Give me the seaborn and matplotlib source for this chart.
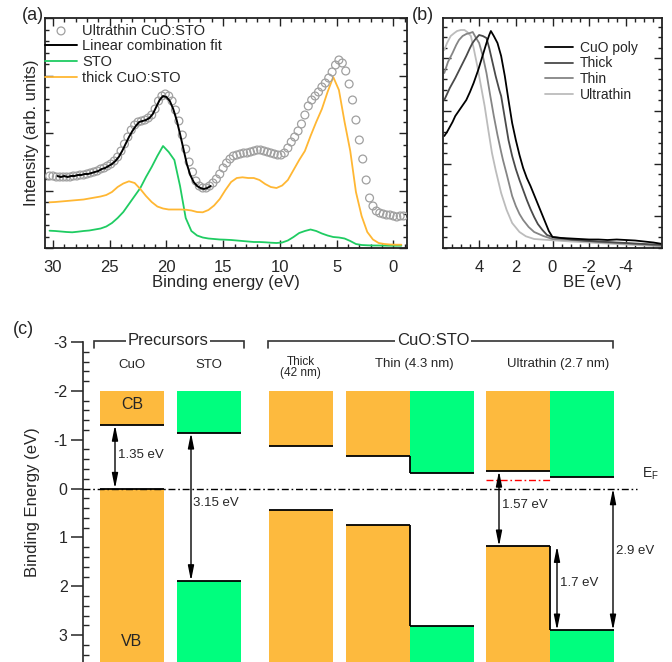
import numpy as np
import matplotlib
matplotlib.use("Agg")
import matplotlib.pyplot as plt
from matplotlib.ticker import MultipleLocator, FixedLocator
import seaborn as sns

# ---------------- panel (a) data ----------------
a_ultra_start, a_ultra_step = 30.3, 0.3
a_ultrathin = [72, 72, 71, 71, 71, 71, 71, 72, 72, 73,
               73, 74, 75, 76, 77, 79, 80, 82, 84, 87,
               91, 97, 104, 111, 118, 123, 126, 127, 128, 130,
               133, 139, 147, 152, 154, 152, 147, 138, 127, 113,
               99, 86, 76, 67, 62, 60, 60, 62, 65, 69,
               74, 80, 85, 89, 92, 93, 94, 95, 95, 96,
               97, 98, 98, 97, 96, 95, 94, 93, 93, 95,
               100, 106, 111, 117, 124, 133, 142, 148, 152, 156,
               161, 165, 170, 176, 183, 188, 185, 177, 164, 148,
               128, 108, 89, 68, 50, 42, 37, 35, 34, 33,
               33, 32, 31, 32, 32]
a_fit_start, a_fit_step = 29.6, 0.3
a_fit = [72, 71, 72, 71, 72, 72, 73, 73, 74, 74,
         75, 76, 77, 79, 80, 82, 84, 87, 91, 97,
         104, 111, 117, 122, 126, 127, 128, 130, 134, 141,
         148, 152, 151, 147, 139, 128, 114, 99, 84, 73,
         66, 62, 60, 59, 60, 62]
a_ref_start, a_ref_step = 30.3, 0.5
a_sto = [17.3, 17, 16.5, 16, 15.7, 16.3, 17, 17.5, 18.5, 19.5,
         21.5, 25, 30, 36, 44, 52, 60, 71, 81, 92,
         102, 96, 88, 62, 30, 17, 12.5, 10.5, 9.5, 9,
         8.5, 8.3, 8, 7.5, 7, 6.5, 6, 6, 5.7, 5.3,
         5, 5.5, 7.5, 11, 15, 17, 18.5, 17, 14.5, 12.5,
         11, 10.5, 9.5, 7, 4, 3, 2.7, 2.5, 2.5, 2.4,
         2.3, 2.3, 2.3]
a_thick = [45.7, 46, 46.5, 47, 47.5, 48, 48.5, 49.5, 50.5, 51.5,
           53, 56, 61, 64.5, 66.7, 65, 59, 52, 46, 41.5,
           39.5, 38.5, 38.5, 38.5, 38.3, 37.5, 36, 35.7, 38, 42.5,
           49, 58, 66, 70, 70.7, 70, 70, 68, 64, 61,
           60, 62.5, 68, 78, 88, 97, 112, 126, 139, 156,
           171, 158, 126, 97, 56, 32, 16, 8.5, 5, 4,
           3.5, 3.3, 3.3]
a_labels = ["Ultrathin CuO:STO", "Linear combination fit", "STO", "thick CuO:STO"]

# ---------------- panel (b) data ----------------
b_labels = ["CuO poly", "Thick", "Thin", "Ultrathin"]
b_cuo_x = [5.9, 5.75, 5.6, 5.45, 5.3, 5.0, 4.7, 4.5, 4.3, 4.05, 3.8, 3.6, 3.45, 3.36, 3.2, 3.0,
           2.8, 2.6, 2.4, 2.2, 2.0, 1.8, 1.6, 1.4, 1.2, 1.0, 0.8, 0.6, 0.4, 0.2, 0.0,
           -0.5, -1.0, -1.5, -2.0, -2.5, -3.0, -3.5, -4.0, -4.5, -5.0, -5.5, -5.9]
b_cuo_y = [112, 116, 121, 126, 132, 140, 148, 156, 165, 178, 193, 205, 213, 217, 212, 205,
           192, 172, 148, 125, 108, 93, 80, 70, 62, 53, 44, 35, 26, 17, 11,
           10, 9.5, 9, 8.5, 8.5, 8, 8.5, 8, 7.5, 6.5, 5.5, 4.3]
b_thick_x = [5.9, 5.6, 5.3, 5.0, 4.7, 4.5, 4.36, 4.2, 4.0, 3.8, 3.6, 3.45, 3.3, 3.1, 2.9, 2.8,
             2.6, 2.4, 2.2, 2.0, 1.8, 1.6, 1.4, 1.2, 1.0, 0.8, 0.55, 0.3, 0.0,
             -1, -2, -3, -4, -5, -5.9]
b_thick_y = [148, 160, 170, 181, 192, 200, 205, 209, 213, 212, 210, 200, 188, 172, 158, 152,
             130, 108, 92, 79, 68, 58, 48, 39, 31, 24, 18, 13, 11,
             8.5, 7, 6, 5, 4, 3.3]
b_thin_x = [5.9, 5.7, 5.45, 5.25, 5.1, 4.9, 4.7, 4.5, 4.35, 4.2, 4.0, 3.8, 3.6, 3.4, 3.2, 3.0,
            2.8, 2.7, 2.5, 2.2, 2.0, 1.8, 1.6, 1.3, 1.0, 0.5, 0.0,
            -1, -2, -3, -4, -5, -5.9]
b_thin_y = [175, 186, 195, 203, 208, 212, 214, 215, 216, 211, 205, 192, 175, 153, 132, 113,
            96, 88, 74, 52, 42, 34, 28, 21, 16, 12, 9,
            8, 6.7, 5.5, 4.5, 3.5, 2.3]
b_ultra_x = [5.9, 5.75, 5.55, 5.35, 5.2, 5.0, 4.8, 4.65, 4.45, 4.3, 4.1, 3.9, 3.7, 3.5, 3.3,
             3.1, 2.8, 2.5, 2.2, 1.8, 1.45, 1.0, 0.0, -1, -2, -3, -4, -5, -5.9]
b_ultra_y = [198, 205, 212, 215, 217, 218, 218, 216, 212, 200, 182, 162, 142, 118, 95,
             78, 55, 38, 25, 16, 11.7, 9, 7.7, 6.5, 5.5, 4.5, 3.5, 2.5, 1.7]

# ---------------- panel (c) data ----------------
c_columns = ["CuO", "STO", "Thick\n(42 nm)", "Thin (4.3 nm)", "Ultrathin (2.7 nm)"]
c_groups = ["Precursors", "CuO:STO"]
c_material = ["CuO", "STO", "CuO", "CuO", "STO", "CuO", "STO"]
c_cb_top = [-2.0, -2.0, -2.0, -2.0, -2.0, -2.0, -2.0]
c_cb_min = [-1.30, -1.14, -0.88, -0.67, -0.31, -0.36, -0.245]
c_vb_max = [0.0, 1.89, 0.435, 0.74, 2.82, 1.18, 2.90]
c_ef = 0.0
c_red_level = -0.18
c_gap_labels = ["1.35 eV", "3.15 eV", "1.57 eV", "1.7 eV", "2.9 eV"]

# ---------------- style ----------------
sns.set_style("ticks")
plt.rcParams['font.family'] = ['Liberation Sans', 'DejaVu Sans']
plt.rcParams['axes.unicode_minus'] = False
plt.rcParams['mathtext.fontset'] = 'custom'
plt.rcParams['mathtext.rm'] = 'Liberation Sans'
plt.rcParams['mathtext.it'] = 'Liberation Sans'

W, H = 672, 662
fig = plt.figure(figsize=(W / 100, H / 100), dpi=100)


def px_axes(l, t, r, b):
    return fig.add_axes([l / W, 1 - b / H, (r - l) / W, (b - t) / H])


axa = px_axes(45, 18, 407, 248)
axb = px_axes(443, 18, 662, 248)
axc = px_axes(83, 342, 672, 662)

# ---------------- panel (a) ----------------
ua_x = a_ultra_start - a_ultra_step * np.arange(len(a_ultrathin))
fit_x = a_fit_start - a_fit_step * np.arange(len(a_fit))
sto_x = a_ref_start - a_ref_step * np.arange(len(a_sto))
thick_x = a_ref_start - a_ref_step * np.arange(len(a_thick))

sns.lineplot(x=sto_x, y=a_sto, ax=axa, color='#1fcc62', lw=1.3, label=a_labels[2])
sns.lineplot(x=thick_x, y=a_thick, ax=axa, color='#ffb733', lw=1.3, label=a_labels[3])
sns.scatterplot(x=ua_x, y=a_ultrathin, ax=axa, marker='o', s=32, facecolor='none',
                edgecolor='#a0a0a0', linewidth=0.9, label=a_labels[0], zorder=3)
sns.lineplot(x=fit_x, y=a_fit, ax=axa, color='black', lw=1.4, label=a_labels[1], zorder=4)

axa.set_xlim(30.7, -1.2)
axa.set_ylim(0, 230)
axa.xaxis.set_major_locator(MultipleLocator(5))
axa.xaxis.set_minor_locator(MultipleLocator(1))
axa.yaxis.set_major_locator(MultipleLocator(57.5))
axa.yaxis.set_minor_locator(MultipleLocator(11.5))
axa.tick_params(which='both', direction='in', top=True, right=True, width=1,
                labelleft=False, labelsize=12, pad=9, color='#222222')
axa.tick_params(which='major', length=6)
axa.tick_params(which='minor', length=3)
axa.set_xlabel("Binding energy (eV)", fontsize=12, labelpad=0)
axa.set_ylabel("Intensity (arb. units)", fontsize=12, labelpad=4)
for s in axa.spines.values():
    s.set_linewidth(1.3)
    s.set_color('#222222')
h, l = axa.get_legend_handles_labels()
order = [l.index(t) for t in a_labels]
axa.legend([h[i] for i in order], [l[i] for i in order], loc='upper left',
           bbox_to_anchor=(0.0, 0.975), frameon=False, fontsize=10.5, borderpad=0,
           handlelength=2.2, handletextpad=0.35, labelspacing=0.12, borderaxespad=0.0)

# ---------------- panel (b) ----------------
b_series = [(b_cuo_x, b_cuo_y, '#000000'), (b_thick_x, b_thick_y, '#4a4a4a'),
            (b_thin_x, b_thin_y, '#858585'), (b_ultra_x, b_ultra_y, '#bcbcbc')]
for (xs, ys, col), lab in zip(b_series[::-1], b_labels[::-1]):
    sns.lineplot(x=xs, y=ys, ax=axb, color=col, lw=1.3, label=lab)
axb.set_xlim(5.97, -5.97)
axb.set_ylim(0, 230)
axb.xaxis.set_major_locator(MultipleLocator(2))
axb.xaxis.set_minor_locator(MultipleLocator(0.5))
axb.yaxis.set_major_locator(FixedLocator(np.arange(31.7 - 52.7, 235, 52.7)))
axb.yaxis.set_minor_locator(FixedLocator(np.arange(31.7 - 52.7, 235, 10.54)))
axb.tick_params(which='both', direction='in', top=True, right=True, width=1,
                labelleft=False, labelsize=12, pad=9, color='#222222')
axb.tick_params(which='major', length=6)
axb.tick_params(which='minor', length=3)
axb.set_xlabel("BE (eV)", fontsize=12, labelpad=0, x=0.68)
for s in axb.spines.values():
    s.set_linewidth(1.3)
    s.set_color('#222222')
h, l = axb.get_legend_handles_labels()
order = [l.index(t) for t in b_labels]
axb.legend([h[i] for i in order], [l[i] for i in order], loc='upper left',
           bbox_to_anchor=(0.44, 0.925), frameon=False, fontsize=10,
           handlelength=2.0, handletextpad=0.5, labelspacing=0.12, borderaxespad=0.0)

# ---------------- panel (c) ----------------
orange, green = '#fdba3e', '#00fe7e'
col_of = {"CuO": orange, "STO": green}
bar_x = [132, 209, 300.5, 378, 442, 518, 582]
bar_w = 64
vb_floor = 3.7
edge_lw = 1.3
axc.set_xlim(83, 672)
axc.set_ylim(3.55, -3)
for i, x in enumerate(bar_x):
    c = col_of[c_material[i]]
    axc.bar(x, c_cb_min[i] - c_cb_top[i], bottom=c_cb_top[i], width=bar_w, color=c,
            linewidth=0, zorder=1)
    axc.bar(x, vb_floor - c_vb_max[i], bottom=c_vb_max[i], width=bar_w, color=c,
            linewidth=0, zorder=1)
    axc.hlines([c_cb_min[i], c_vb_max[i]], x - bar_w / 2, x + bar_w / 2, color='black',
               lw=edge_lw, zorder=3)
# band steps between neighbouring CuO and STO halves
axc.vlines(bar_x[3] + bar_w / 2, c_cb_min[3], c_cb_min[4], color='black', lw=edge_lw, zorder=3)
axc.vlines(bar_x[3] + bar_w / 2, c_vb_max[3], c_vb_max[4], color='black', lw=edge_lw, zorder=3)
axc.vlines(bar_x[5] + bar_w / 2, c_vb_max[5], c_vb_max[6], color='black', lw=edge_lw, zorder=3)

# Fermi level
axc.hlines(c_ef, 83, 637, color='black', lw=1.0, linestyles=[(0, (5, 2, 1.2, 2))], zorder=4)
axc.hlines(c_red_level, bar_x[5] - bar_w / 2, bar_x[5] + bar_w / 2, color='red', lw=1.0,
           linestyles=[(0, (5, 2, 1.2, 2))], zorder=4)
axc.text(642, -0.3, r"E$_\mathrm{F}$", fontsize=10, ha='left', va='center')

# gap arrows
arrows = [(115, c_cb_min[0], c_vb_max[0]), (191, c_cb_min[1], c_vb_max[1]),
          (499, c_cb_min[5], c_vb_max[5]), (557, c_vb_max[5], c_vb_max[6]),
          (613, c_ef, c_vb_max[6])]
label_pos = [(118, -0.69), (193, 0.30), (502, 0.33), (560, 1.94), (616, 1.28)]
for (x, y0, y1), lab, (tx, ty) in zip(arrows, c_gap_labels, label_pos):
    axc.annotate('', xy=(x, y1), xytext=(x, y0),
                 arrowprops=dict(arrowstyle='<|-|>,head_length=0.9,head_width=0.18',
                                 color='black', lw=1.0, shrinkA=0, shrinkB=0,
                                 mutation_scale=10), zorder=5)
    axc.text(tx, ty, lab, fontsize=9.5, ha='left', va='center', zorder=5)

axc.text(132, -1.73, "CB", fontsize=11.5, ha='center', va='center')
axc.text(132, 3.14, "VB", fontsize=11.5, ha='center', va='center')

# column labels
col_x = [132, 209, 300.5, 414, 558]
col_y = [-2.52, -2.52, -2.47, -2.55, -2.55]
for x, y, lab in zip(col_x, col_y, c_columns):
    fs = 8.5 if '\n' in lab else 9.5
    axc.text(x, y, lab, fontsize=fs, ha='center', va='center', linespacing=0.9)

# group brackets
brackets = [(94, 244, 168), (268, 613, 433)]
for (x0, x1, xt), lab in zip(brackets, c_groups):
    axc.plot([x0, x0, x1, x1], [-2.88, -3.02, -3.02, -2.88], color='#333333', lw=1.2,
             clip_on=False, solid_joinstyle='miter')
    axc.text(xt, -3.04, lab, fontsize=12, ha='center', va='center',
             bbox=dict(facecolor='white', edgecolor='none', pad=1.5))

axc.yaxis.set_major_locator(FixedLocator([-3, -2, -1, 0, 1, 2, 3]))
axc.yaxis.set_minor_locator(MultipleLocator(0.2))
axc.tick_params(axis='y', which='major', direction='out', length=9, width=1.1,
                labelsize=11.5, pad=2)
axc.tick_params(axis='y', which='minor', direction='in', length=4, width=1.0)
axc.set_xticks([])
for k in ['top', 'right', 'bottom']:
    axc.spines[k].set_visible(False)
axc.spines['left'].set_linewidth(1.2)
axc.set_ylabel("Binding Energy (eV)", fontsize=12, labelpad=10)
axc.patch.set_alpha(0)

# panel letters
fig.text(22 / W, 1 - 15 / H, "(a)", fontsize=13, ha='left', va='center')
fig.text(412 / W, 1 - 15 / H, "(b)", fontsize=13, ha='left', va='center')
fig.text(13 / W, 1 - 330 / H, "(c)", fontsize=13, ha='left', va='center')

fig.savefig("out.png", dpi=100)
